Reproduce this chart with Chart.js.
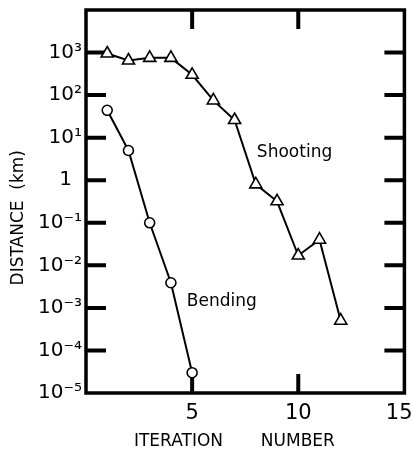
<!DOCTYPE html>
<html>
<head>
<meta charset="utf-8">
<script src="https://cdn.jsdelivr.net/npm/chart.js@4"></script>
<style>
  html, body { margin: 0; padding: 0; background: #fff; }
</style>
</head>
<body>
<canvas id="distChart" width="413" height="450"></canvas>
<script>
// iteration numbers and distances (km)
const shootingIter = [1, 2, 3, 4, 5, 6, 7, 8, 9, 10, 11, 12];
const shootingDist = [950, 650, 750, 750, 300, 75, 26, 0.8, 0.32, 0.017, 0.04, 0.0005];
const bendingIter = [1, 2, 3, 4, 5];
const bendingDist = [44, 5, 0.1, 0.0039, 0.00003];

const xTicks = [5, 10, 15];
const xTickLabels = ['5', '10', '15\u2002'];
const yExponents = [-5, -4, -3, -2, -1, 0, 1, 2, 3];
const yTickLabels = ['10⁻⁵', '10⁻⁴', '10⁻³', '10⁻²', '10⁻¹', '1\u2002', '10¹', '10²', '10³'];

const toPoints = (xs, ys) => xs.map((x, i) => ({ x: x, y: ys[i] }));

// frame, inward ticks and curve names
const framePlugin = {
    id: 'frame',
    beforeDatasetsDraw(chart) {
        const { ctx, chartArea: a, scales: { x, y } } = chart;
        ctx.save();
        ctx.strokeStyle = '#000';
        ctx.lineWidth = 3.5;
        ctx.strokeRect(a.left, a.top, a.width, a.height);
        ctx.lineWidth = 4;
        ctx.beginPath();
        xTicks.forEach(v => {
            if (v >= 15) return;
            const px = x.getPixelForValue(v);
            ctx.moveTo(px, a.bottom); ctx.lineTo(px, a.bottom - 19);
            ctx.moveTo(px, a.top); ctx.lineTo(px, a.top + 19);
        });
        yExponents.forEach(e => {
            if (e <= -5) return;
            const py = y.getPixelForValue(Math.pow(10, e));
            ctx.moveTo(a.left, py); ctx.lineTo(a.left + 20, py);
            ctx.moveTo(a.right, py); ctx.lineTo(a.right - 20, py);
        });
        ctx.stroke();

        ctx.fillStyle = '#000';
        ctx.font = '17px "DejaVu Sans"';
        ctx.textAlign = 'left';
        ctx.textBaseline = 'middle';
        ctx.fillText('Shooting', x.getPixelForValue(8.05), y.getPixelForValue(4.5));
        ctx.fillText('Bending', x.getPixelForValue(4.75), y.getPixelForValue(0.0014));
        ctx.restore();
    }
};

new Chart(document.getElementById('distChart'), {
    type: 'line',
    data: {
        datasets: [
            {
                label: 'Shooting',
                data: toPoints(shootingIter, shootingDist),
                borderColor: '#000',
                borderWidth: 2,
                backgroundColor: '#fff',
                pointStyle: 'triangle',
                pointRadius: 7,
                pointBorderWidth: 1.6,
                pointBackgroundColor: '#fff',
                tension: 0,
            },
            {
                label: 'Bending',
                data: toPoints(bendingIter, bendingDist),
                borderColor: '#000',
                borderWidth: 2,
                backgroundColor: '#fff',
                pointStyle: 'circle',
                pointRadius: 5,
                pointBorderWidth: 1.6,
                pointBackgroundColor: '#fff',
                tension: 0,
            }
        ],
    },
    options: {
        responsive: false,
        animation: false,
        layout: { padding: { top: 10, right: 8, left: 0, bottom: 0 } },
        plugins: {
            legend: { display: false },
            tooltip: { enabled: false },
        },
        scales: {
            x: {
                type: 'linear',
                min: 0,
                max: 15,
                grid: { display: false, drawTicks: false },
                border: { display: false },
                afterBuildTicks: s => { s.ticks = xTicks.map(v => ({ value: v })); },
                afterFit: s => { s.height = 57; s.paddingLeft = 0; s.paddingRight = 0; },
                ticks: {
                    color: '#000',
                    padding: 8,
                    maxRotation: 0,
                    font: { family: '"DejaVu Sans"', size: 21 },
                    callback: (v) => xTickLabels[xTicks.indexOf(v)] || '',
                },
                title: {
                    display: true,
                    text: 'ITERATION       NUMBER    ',
                    color: '#000',
                    font: { family: '"DejaVu Sans"', size: 17, lineHeight: 1 },
                    padding: { top: 0, bottom: 0 },
                },
            },
            y: {
                type: 'logarithmic',
                min: 1e-5,
                max: 1e4,
                grid: { display: false, drawTicks: false },
                border: { display: false },
                afterBuildTicks: s => { s.ticks = yExponents.map(e => ({ value: Math.pow(10, e) })); },
                afterFit: s => { s.width = 86; s.paddingTop = 0; s.paddingBottom = 0; },
                ticks: {
                    color: '#000',
                    padding: 4,
                    font: { family: '"DejaVu Sans"', size: 20 },
                    callback: (v) => yTickLabels[yExponents.indexOf(Math.round(Math.log10(v)))] || '',
                },
                title: {
                    display: true,
                    text: 'DISTANCE  (km)      ',
                    color: '#000',
                    font: { family: '"DejaVu Sans"', size: 17 },
                    padding: { top: 8, bottom: 0 },
                },
            },
        },
    },
    plugins: [framePlugin],
});
</script>
</body>
</html>
